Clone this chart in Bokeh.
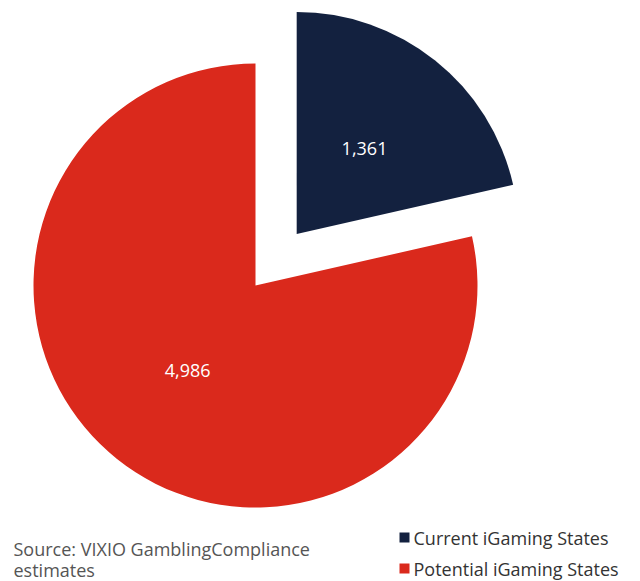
import math
from bokeh.plotting import figure
from bokeh.models import Range1d
from bokeh.core.properties import value
from bokeh.embed import file_html
from bokeh.resources import INLINE

categories = ["Current iGaming States", "Potential iGaming States"]
values = [1361, 4986]
labels = ["1,361", "4,986"]
colors = ["#13213f", "#da291c"]
explode = [66, 0]
source_lines = ["Source: VIXIO GamblingCompliance", "estimates"]

W, H = 640, 581
p = figure(width=W, height=H, output_backend="svg", toolbar_location=None,
           x_range=Range1d(0, W), y_range=Range1d(0, H), min_border=0)
p.axis.visible = False
p.grid.visible = False
p.outline_line_color = None
p.background_fill_color = "white"

def sy(y):
    return H - y

def sx(x):
    return x

FONT = value("Open Sans")
cx, cy = sx(255), sy(285)
R = 222
total = sum(values)
start = math.pi / 2
for v, lab, col, ex in zip(values, labels, colors, explode):
    sweep = 2 * math.pi * v / total
    end = start - sweep
    mid = (start + end) / 2
    ox = cx + ex * math.cos(mid)
    oy = cy + ex * math.sin(mid)
    p.wedge(x=[ox], y=[oy], radius=R, start_angle=[start], end_angle=[end],
            direction="clock", fill_color=col, line_color=None)
    lr = R * 0.49
    p.text(x=[ox + lr * math.cos(mid)], y=[oy + lr * math.sin(mid)], text=[lab],
           text_align="center", text_baseline="middle", text_color="white",
           text_font=FONT, text_font_size="18px")
    start = end

# legend
leg_y = [537, 568]
for cat, col, ly in zip(categories, colors, leg_y):
    p.scatter(x=[sx(404)], y=[sy(ly)], marker="square", size=10,
              fill_color=col, line_color=None)
    p.text(x=[sx(413)], y=[sy(ly)], text=[cat], text_align="left",
           text_baseline="middle", text_color="#333333",
           text_font=FONT, text_font_size="18px")

src_y = [548, 569]
for line, ly in zip(source_lines, src_y):
    p.text(x=[sx(13)], y=[sy(ly)], text=[line], text_align="left",
           text_baseline="middle", text_color="#555555",
           text_font=FONT, text_font_size="18px")

open("out.html", "w").write(file_html(p, INLINE))
